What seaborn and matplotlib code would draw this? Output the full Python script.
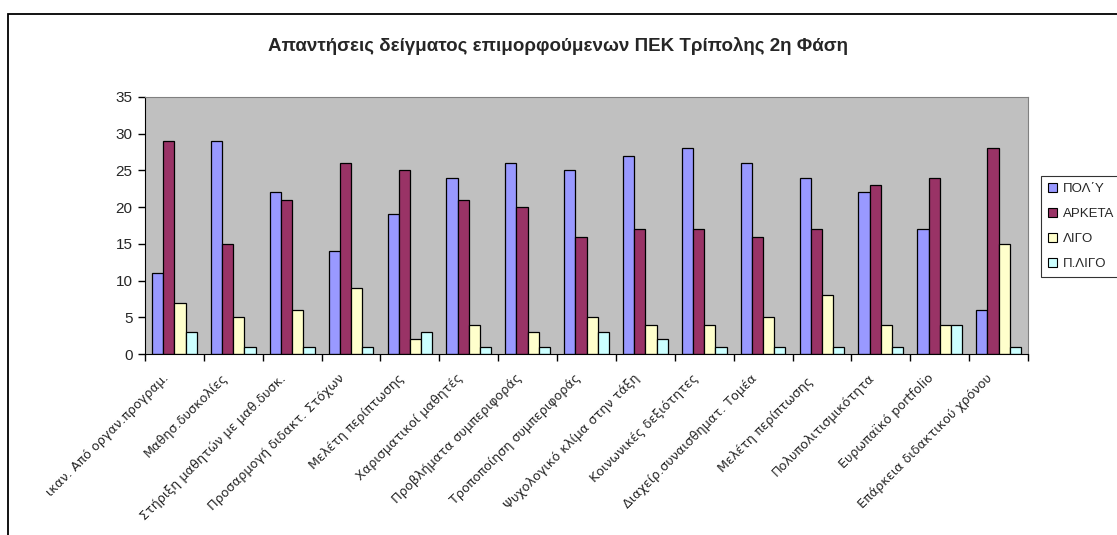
import matplotlib
matplotlib.use("Agg")
import matplotlib.pyplot as plt
import seaborn as sns
import pandas as pd
from matplotlib import patches
from matplotlib.ticker import FixedLocator
from matplotlib.transforms import ScaledTranslation

categories = ['ικαν. Από οργαν.προγραμ.', 'Μαθησ.δυσκολίες', 'Στήριξη μαθητών με μαθ.δυσκ.',
              'Προσαρμογή διδακτ. Στόχων', 'Μελέτη περίπτωσης', 'Χαρισματικοί μαθητές',
              'Προβλήματα συμπεριφοράς', 'Τροποποίηση συμπεριφοράς', 'Ψυχολογικό κλίμα στην τάξη',
              'Κοινωνικές δεξιότητες', 'Διαχείρ.συναισθηματ. Τομέα', 'Μελέτη περίπτωσης ',
              'Πολυπολιτισμικότητα', 'Ευρωπαϊκό portfolio', 'Επάρκεια διδακτικού χρόνου']
series = ['ΠΟΛ΄Υ', 'ΑΡΚΕΤΑ', 'ΛΙΓΟ', 'Π.ΛΙΓΟ']
polu = [11, 29, 22, 14, 19, 24, 26, 25, 27, 28, 26, 24, 22, 17, 6]
arketa = [29, 15, 21, 26, 25, 21, 20, 16, 17, 17, 16, 17, 23, 24, 28]
ligo = [7, 5, 6, 9, 2, 4, 3, 5, 4, 4, 5, 8, 4, 4, 15]
poli_ligo = [3, 1, 1, 1, 3, 1, 1, 3, 2, 1, 1, 1, 1, 4, 1]
colors = ['#9999FF', '#993366', '#FFFFCC', '#CCFFFF']

rows = []
for name, vals in zip(series, [polu, arketa, ligo, poli_ligo]):
    for cat, v in zip(categories, vals):
        rows.append({'cat': cat, 'series': name, 'value': v})
df = pd.DataFrame(rows)

sns.set_style("white")
plt.rcParams['font.family'] = ['Liberation Sans', 'DejaVu Sans']

fig = plt.figure(figsize=(11.17, 5.35), dpi=100)
ax = fig.add_axes([145/1117, 1-354/535, (1028-145)/1117, (354-97)/535])

sns.barplot(data=df, x='cat', y='value', hue='series', palette=colors,
            order=categories, hue_order=series, width=0.76, gap=0,
            edgecolor='black', linewidth=0.9, saturation=1, legend=False, ax=ax)

ax.set_facecolor('#C0C0C0')
ax.set_ylim(0, 35)
ax.set_xlim(-0.5, len(categories) - 0.5)
ax.set_yticks(range(0, 36, 5))
ax.set_xlabel('')
ax.set_ylabel('')
for s in ['top', 'right']:
    ax.spines[s].set_color('#808080')
for s in ['left', 'bottom']:
    ax.spines[s].set_color('black')
ax.tick_params(axis='y', direction='out', length=5, width=1, color='black', labelsize=11, pad=4, left=True)
ax.tick_params(axis='x', which='major', length=0, pad=16)
ax.xaxis.set_minor_locator(FixedLocator([i - 0.5 for i in range(len(categories) + 1)]))
ax.tick_params(axis='x', which='minor', direction='out', length=5, width=1, color='black', bottom=True)
ax.set_xticks(range(len(categories)))
ax.set_xticklabels(categories, rotation=45, ha='right', va='center', rotation_mode='anchor',
                   fontsize=9.2, family=['DejaVu Sans'])
shift = ScaledTranslation(-8/100, 0, fig.dpi_scale_trans)
for lbl in ax.get_xticklabels():
    lbl.set_transform(lbl.get_transform() + shift)

handles = [patches.Rectangle((0, 0), 1, 1, facecolor=c, edgecolor='black', linewidth=0.8) for c in colors]
leg = fig.legend(handles, series, loc='upper left', bbox_to_anchor=(1041/1117, 1-176/535),
                 frameon=True, fancybox=False, fontsize=9.5, handlelength=0.7, handleheight=0.7,
                 handletextpad=0.4, labelspacing=0.95, borderpad=0.55, borderaxespad=0)
leg.get_frame().set_edgecolor('black')
leg.get_frame().set_linewidth(0.8)

fig.text(0.5, 1-46/535, 'Απαντήσεις δείγματος επιμορφούμενων ΠΕΚ Τρίπολης 2η Φάση',
         ha='center', va='center', fontsize=13.5, fontweight='bold')

fig.add_artist(patches.Rectangle((8/1117, -0.1), 1.2, 0.1 + 1-14/535, transform=fig.transFigure,
                                 fill=False, edgecolor='black', linewidth=1.3, clip_on=False))

fig.savefig('out.png', dpi=100)
